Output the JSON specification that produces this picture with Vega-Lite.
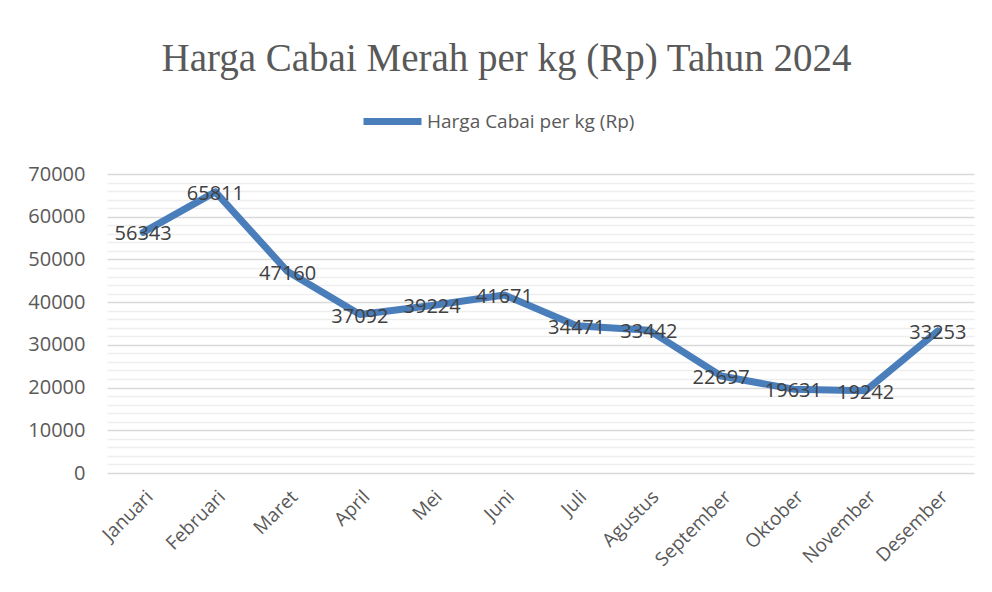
{
  "$schema": "https://vega.github.io/schema/vega-lite/v6.json",
  "width": 867,
  "height": 299,
  "padding": {"left": 27, "top": 40, "right": 16, "bottom": 5},
  "background": "white",
  "title": {
    "text": "Harga Cabai Merah per kg (Rp) Tahun 2024",
    "font": "Liberation Serif",
    "fontSize": 39,
    "fontWeight": "normal",
    "color": "#595959",
    "anchor": "middle",
    "dx": -34,
    "offset": 10
  },
  "data": {
    "values": [
      {"bulan": "Januari", "harga": 56343},
      {"bulan": "Februari", "harga": 65811},
      {"bulan": "Maret", "harga": 47160},
      {"bulan": "April", "harga": 37092},
      {"bulan": "Mei", "harga": 39224},
      {"bulan": "Juni", "harga": 41671},
      {"bulan": "Juli", "harga": 34471},
      {"bulan": "Agustus", "harga": 33442},
      {"bulan": "September", "harga": 22697},
      {"bulan": "Oktober", "harga": 19631},
      {"bulan": "November", "harga": 19242},
      {"bulan": "Desember", "harga": 33253}
    ]
  },
  "encoding": {
    "x": {
      "field": "bulan",
      "type": "nominal",
      "sort": null,
      "title": null,
      "axis": {
        "labelAngle": -45,
        "labelFont": "Open Sans",
        "labelFontSize": 19,
        "labelColor": "#595959",
        "domain": false,
        "ticks": false,
        "labelPadding": 14,
        "grid": false
      }
    },
    "y": {
      "field": "harga",
      "type": "quantitative",
      "title": null,
      "scale": {"domain": [0, 70000], "nice": false},
      "axis": {
        "values": [0, 2000, 4000, 6000, 8000, 10000, 12000, 14000, 16000, 18000, 20000, 22000, 24000, 26000, 28000, 30000, 32000, 34000, 36000, 38000, 40000, 42000, 44000, 46000, 48000, 50000, 52000, 54000, 56000, 58000, 60000, 62000, 64000, 66000, 68000, 70000],
        "format": "d",
        "labelExpr": "datum.value % 10000 === 0 ? datum.label : ''",
        "labelFont": "Open Sans",
        "labelFontSize": 20,
        "labelColor": "#595959",
        "labelPadding": 22,
        "domain": false,
        "ticks": false,
        "grid": true,
        "gridColor": {"condition": {"test": "datum.value % 10000 === 0", "value": "#d9d9d9"}, "value": "#eeeeee"},
        "gridWidth": {"condition": {"test": "datum.value % 10000 === 0", "value": 1.5}, "value": 1.3}
      }
    }
  },
  "layer": [
    {
      "mark": {"type": "line", "strokeWidth": 7, "strokeCap": "round", "strokeJoin": "round"},
      "encoding": {
        "color": {
          "datum": "Harga Cabai per kg (Rp)",
          "scale": {"range": ["#4a7ebb"]},
          "legend": {
            "title": null,
            "orient": "none",
            "legendX": 253,
            "legendY": -85,
            "symbolType": "stroke",
            "symbolSize": 3364,
            "symbolStrokeWidth": 7,
            "labelFont": "Open Sans",
            "labelFontSize": 19,
            "labelLimit": 400,
            "labelColor": "#595959",
            "labelOffset": 2
          }
        }
      }
    },
    {
      "mark": {"type": "text", "font": "Open Sans", "fontSize": 20, "color": "#404040", "align": "center", "baseline": "middle", "dy": 2},
      "encoding": {"text": {"field": "harga", "type": "quantitative", "format": "d"}}
    }
  ],
  "config": {"view": {"stroke": null}}
}
